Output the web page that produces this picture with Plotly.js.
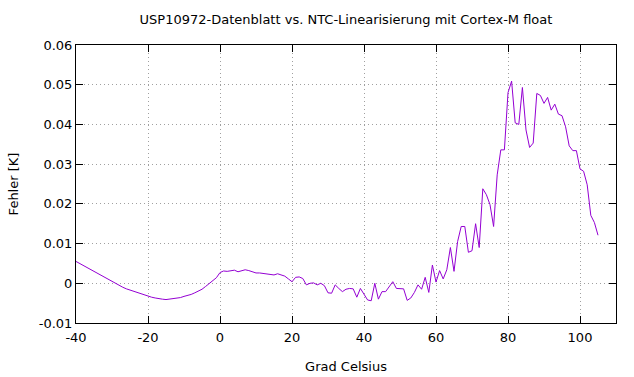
<!DOCTYPE html>
<html>
<head>
<meta charset="utf-8">
<script src="https://cdn.plot.ly/plotly-3.0.1.min.js"></script>
<style>html,body{margin:0;padding:0;background:#fff;}#chart{width:634px;height:377px;}</style>
</head>
<body>
<div id="chart"></div>
<script>
// Temperature in degrees Celsius (1-degree steps, -40 .. 105)
const tStart = -40;
// Error [K]
const fehlerNeg = [
  0.0055, 0.0050, 0.0044, 0.0039, 0.0034, 0.0029, 0.0023, 0.0018, 0.0013, 0.0008,
  0.0003, -0.0001, -0.0005, -0.0010, -0.0014, -0.0017, -0.0021, -0.0024, -0.0027, -0.0030,
  -0.0033, -0.0035, -0.0037, -0.0039, -0.0040, -0.0041, -0.0040, -0.0039, -0.0038, -0.0036,
  -0.0033, -0.0031, -0.0028, -0.0024, -0.0020, -0.0015, -0.0008, -0.0001, 0.0006, 0.0014
];
const fehler0to56 = [
  0.0027, 0.0031, 0.0030, 0.0031, 0.0033, 0.0029, 0.0032, 0.0034, 0.0032, 0.0028,
  0.0026, 0.0026, 0.0025, 0.0024, 0.0022, 0.0021, 0.0024, 0.0020, 0.0018, 0.0011,
  0.0004, 0.0015, 0.0016, 0.0012, -0.0004, 0.0000, 0.0001, -0.0004, 0.0000, -0.0006,
  -0.0024, -0.0025, -0.0004, -0.0013, -0.0021, -0.0015, -0.0013, -0.0014, -0.0035, -0.0013,
  -0.0026, -0.0042, -0.0044, 0.0000, -0.0040, -0.0021, -0.0021, -0.0008, 0.0004, -0.0013,
  -0.0013, -0.0014, -0.0043, -0.0037, -0.0023, -0.0004, -0.0015
];
const fehler57to105 = [
  0.0015, -0.0023, 0.0046, 0.0003, 0.0032, 0.0011, 0.0034, 0.0090, 0.0030, 0.0105,
  0.0143, 0.0143, 0.0078, 0.0082, 0.0150, 0.0090, 0.0238, 0.0223, 0.0198, 0.0143,
  0.0273, 0.0336, 0.0336, 0.0480, 0.0509, 0.0404, 0.0400, 0.0493, 0.0386, 0.0342,
  0.0353, 0.0478, 0.0473, 0.0453, 0.0468, 0.0436, 0.0451, 0.0426, 0.0422, 0.0394,
  0.0346, 0.0334, 0.0334, 0.0288, 0.0282, 0.0248, 0.0171, 0.0153, 0.0121
];
const fehler = fehlerNeg.concat(fehler0to56, fehler57to105);
const temperatur = fehler.map((_, i) => tStart + i);

const xTickVals = [-40, -20, 0, 20, 40, 60, 80, 100];
const xTickText = ['-40', '-20', '0', '20', '40', '60', '80', '100'];
const yTickVals = [-0.01, 0, 0.01, 0.02, 0.03, 0.04, 0.05, 0.06];
const yTickText = ['-0.01', '0', '0.01', '0.02', '0.03', '0.04', '0.05', '0.06'];

const font = {family: 'DejaVu Sans, sans-serif', size: 13, color: '#000'};

const trace = {
  x: temperatur, y: fehler, type: 'scatter', mode: 'lines',
  line: {color: '#9400d3', width: 1}, hoverinfo: 'skip'
};

const axisCommon = {
  showline: true, linecolor: '#000', linewidth: 1, mirror: 'allticks',
  ticks: 'inside', ticklen: 7, tickcolor: '#000', tickwidth: 1,
  showgrid: true, gridcolor: '#a0a0a0', griddash: '1px,3px', gridwidth: 1,
  zeroline: false, tickfont: font, tickmode: 'array'
};

const layout = {
  width: 634, height: 377,
  margin: {l: 76, r: 18, t: 45, b: 54},
  paper_bgcolor: '#fff', plot_bgcolor: '#fff',
  font: font, showlegend: false,
  title: {text: 'USP10972-Datenblatt vs. NTC-Linearisierung mit Cortex-M float',
          font: font,
          x: 0.5, xref: 'paper', y: 0.948, yref: 'container', yanchor: 'middle'},
  xaxis: Object.assign({}, axisCommon, {
    range: [-40, 110], tickvals: xTickVals, ticktext: xTickText,
    ticklabelstandoff: 2,
    title: {text: 'Grad Celsius', font: font, standoff: 18}
  }),
  yaxis: Object.assign({}, axisCommon, {
    range: [-0.01, 0.06], tickvals: yTickVals, ticktext: yTickText,
    title: {text: 'Fehler [K]', font: font, standoff: 17}
  })
};

Plotly.newPlot('chart', [trace], layout, {staticPlot: true, displayModeBar: false});
</script>
</body>
</html>
